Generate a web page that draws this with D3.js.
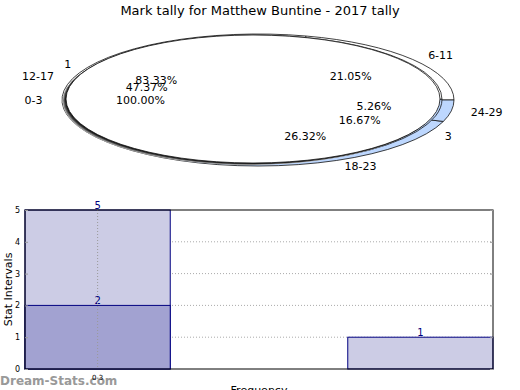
<!DOCTYPE html>
<html>
<head>
<meta charset="utf-8">
<script src="https://cdn.jsdelivr.net/npm/d3@7"></script>
<style>
  body { margin: 0; background: #fff; }
  svg { font-family: "DejaVu Sans", sans-serif; }
</style>
</head>
<body>
<div id="chart"></div>
<script>
// Pie data (three overlaid pies)
const outerLabels = ["6-11", "12-17", "18-23", "24-29"];
const outerValues = [4, 9, 5, 1];
const midLabels = ["1", "3"];
const midValues = [5, 1];
const innerLabels = ["0-3"];
const innerValues = [1];

// Bar data
const barPos = [0, 0, 2];
const barValues = [5, 2, 1];
const barSeries = [0, 1, 0];
const tickLabels = ["0-3"];
const yTicks = [0, 1, 2, 3, 4, 5];

const [W, H] = [520, 390];
const blue = "#bdd7fe";

const svg = d3.select("#chart").append("svg")
    .attr("width", W)
    .attr("height", H);

svg.append("text")
    .attr("x", 260).attr("y", 15)
    .attr("text-anchor", "middle")
    .style("font-size", "13px")
    .text("Mark tally for Matthew Buntine - 2017 tally");

// label geometry shared by all pies
const base = {cx: 258, cy: 100, rx: 196, ry: 66};

const pieGen = d3.pie().sort(null).startAngle(Math.PI / 2).endAngle(Math.PI / 2 - 2 * Math.PI);

function drawPie(values, geo, colors, shadow) {
    const arcs = pieGen(values);
    const arc = d3.arc().innerRadius(0).outerRadius(geo.rx);
    if (shadow) {
        // fake 3d edge
        const offs = [[-3.5, 2, "#bbb"], [-3, 1.7, "#888"], [-2.2, 1.3, "#555"], [-1.4, 0.9, "#333"], [-0.7, 0.5, "#111"]];
        offs.forEach(o => {
            svg.append("ellipse")
                .attr("cx", geo.cx + o[0]).attr("cy", geo.cy + o[1])
                .attr("rx", geo.rx).attr("ry", geo.ry)
                .attr("fill", o[2]);
        });
    }
    const g = svg.append("g")
        .attr("transform", `translate(${geo.cx},${geo.cy}) scale(1,${geo.ry / geo.rx})`);
    g.selectAll("path")
        .data(arcs)
        .enter()
        .append("path")
        .attr("d", arc)
        .attr("fill", (d, i) => colors[i])
        .attr("stroke", "#111")
        .attr("stroke-width", 0.8)
        .attr("vector-effect", "non-scaling-stroke");
    return arcs;
}

function pieLabels(arcs, labels, values) {
    const total = d3.sum(values);
    arcs.forEach((d, i) => {
        const a = (d.startAngle + d.endAngle) / 2;
        const sx = Math.sin(a), sy = -Math.cos(a);
        svg.append("text")
            .attr("x", base.cx + 1.1 * base.rx * sx)
            .attr("y", base.cy + 1.1 * base.ry * sy)
            .attr("dy", "0.35em")
            .attr("text-anchor", sx > 0 ? "start" : "end")
            .style("font-size", "11px")
            .text(labels[i]);
        svg.append("text")
            .attr("x", base.cx + 0.6 * base.rx * sx)
            .attr("y", base.cy + 0.6 * base.ry * sy)
            .attr("dy", "0.35em")
            .attr("text-anchor", "middle")
            .style("font-size", "11px")
            .text((values[i] / total * 100).toFixed(2) + "%");
    });
}

const aOuter = drawPie(outerValues, base, ["#fff", "#fff", blue, blue], false);
const aMid = drawPie(midValues, {cx: 254, cy: 99.3, rx: 188, ry: 64.3}, ["#fff", blue], false);
const aInner = drawPie(innerValues, {cx: 253, cy: 99, rx: 187, ry: 64}, ["#fff"], true);
pieLabels(aOuter, outerLabels, outerValues);
pieLabels(aMid, midLabels, midValues);
pieLabels(aInner, innerLabels, innerValues);

// Bar chart
const plot = {left: 25, right: 493, top: 210, bottom: 369};
const x = d3.scaleLinear().domain([-0.45, 2.45]).range([plot.left, plot.right]);
const y = d3.scaleLinear().domain([0, 5]).range([plot.bottom, plot.top]);
const bw = x(0.9) - x(0);
const seriesColor = ["#cccce5", "#a2a2d1"];

// grid
svg.append("g")
    .selectAll("line")
    .data(yTicks.slice(1, -1))
    .enter()
    .append("line")
    .attr("x1", plot.left).attr("x2", plot.right)
    .attr("y1", d => y(d)).attr("y2", d => y(d))
    .attr("stroke", "#aaa")
    .attr("stroke-dasharray", "1,2");

const bars = svg.append("g");
barValues.forEach((v, i) => {
    bars.append("rect")
        .attr("x", x(barPos[i]) - bw / 2)
        .attr("y", y(v))
        .attr("width", bw)
        .attr("height", y(0) - y(v))
        .attr("fill", seriesColor[barSeries[i]])
        .attr("stroke", "#000080")
        .attr("stroke-width", 1);
    bars.append("text")
        .attr("x", x(barPos[i]))
        .attr("y", y(v) - 1)
        .attr("text-anchor", "middle")
        .attr("fill", "#000080")
        .style("font-size", "10px")
        .text(v);
});

// vertical grid at category
svg.append("line")
    .attr("x1", x(0)).attr("x2", x(0))
    .attr("y1", plot.top).attr("y2", plot.bottom)
    .attr("stroke", "#999")
    .attr("stroke-dasharray", "1,2");

// frame
svg.append("rect")
    .attr("x", plot.left).attr("y", plot.top)
    .attr("width", plot.right - plot.left).attr("height", plot.bottom - plot.top)
    .attr("fill", "none").attr("stroke", "#000").attr("stroke-width", 1);

const yAxis = d3.axisLeft(y).tickValues(yTicks).tickFormat(d3.format("d")).tickSize(-3).tickPadding(5);
const yg = svg.append("g")
    .attr("transform", `translate(${plot.left},0)`)
    .call(yAxis);
yg.select(".domain").remove();
yg.selectAll("text").style("font-size", "8px").attr("font-family", "DejaVu Sans");
yg.selectAll("line").attr("stroke", "#999");

const yAxisR = d3.axisRight(y).tickValues(yTicks).tickSize(-3).tickFormat("");
const yr = svg.append("g")
    .attr("transform", `translate(${plot.right},0)`)
    .call(yAxisR);
yr.select(".domain").remove();
yr.selectAll("line").attr("stroke", "#999");

svg.append("text")
    .attr("transform", `translate(12,${(plot.top + plot.bottom) / 2}) rotate(-90)`)
    .attr("text-anchor", "middle")
    .style("font-size", "11px")
    .text("Stat Intervals");

// watermark
svg.append("text")
    .attr("x", 0).attr("y", 385)
    .attr("fill", "#999")
    .style("font-size", "12px")
    .style("font-weight", "bold")
    .text("Dream-Stats.com");

svg.append("g")
    .selectAll("text")
    .data(tickLabels)
    .enter()
    .append("text")
    .attr("x", (d, i) => x(i))
    .attr("y", 380)
    .attr("text-anchor", "middle")
    .style("font-size", "7px")
    .text(d => d);

svg.append("text")
    .attr("x", 259).attr("y", 394)
    .attr("text-anchor", "middle")
    .style("font-size", "11px")
    .text("Frequency");
</script>
</body>
</html>
